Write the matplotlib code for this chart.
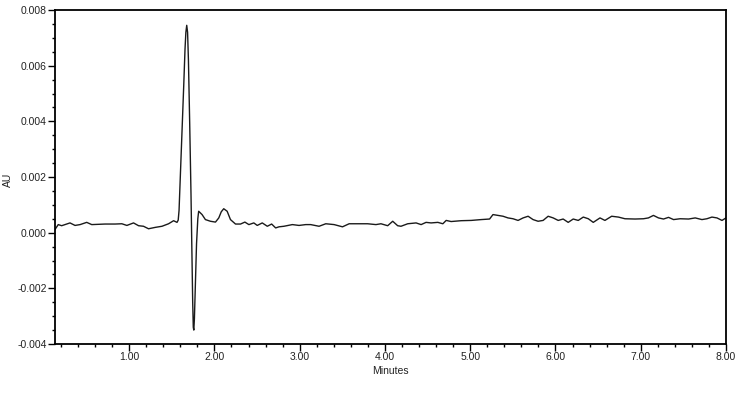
import matplotlib
matplotlib.use("Agg")
import matplotlib.pyplot as plt
from matplotlib.ticker import MultipleLocator, FormatStrFormatter

plt.rcParams['font.family'] = ['Liberation Sans', 'DejaVu Sans']

minutes = [
    0.129, 0.168, 0.208, 0.306, 0.365, 0.424, 0.502, 0.561, 0.640, 0.718,
    0.835, 0.914, 0.973, 1.051, 1.110, 1.168, 1.227, 1.306, 1.385, 1.462,
    1.521, 1.561, 1.575, 1.585, 1.600, 1.620, 1.640, 1.655, 1.665, 1.675,
    1.685, 1.695, 1.710, 1.725, 1.735, 1.745, 1.752, 1.758, 1.765, 1.775,
    1.790, 1.805, 1.815, 1.855, 1.894, 1.953, 2.012, 2.051, 2.080, 2.109,
    2.149, 2.188, 2.247, 2.306, 2.357, 2.404, 2.462, 2.502, 2.561, 2.620,
    2.671, 2.718, 2.757, 2.815, 2.914, 2.992, 3.071, 3.129, 3.227, 3.306,
    3.404, 3.502, 3.580, 3.678, 3.796, 3.894, 3.953, 4.032, 4.091, 4.149,
    4.188, 4.267, 4.365, 4.424, 4.482, 4.541, 4.620, 4.679, 4.718, 4.776,
    4.894, 5.012, 5.129, 5.227, 5.267, 5.326, 5.385, 5.443, 5.502, 5.561,
    5.620, 5.679, 5.737, 5.796, 5.855, 5.914, 5.973, 6.032, 6.090, 6.149,
    6.208, 6.267, 6.326, 6.385, 6.443, 6.522, 6.580, 6.659, 6.738, 6.815,
    6.933, 7.032, 7.090, 7.149, 7.208, 7.267, 7.326, 7.385, 7.462, 7.561,
    7.639, 7.718, 7.776, 7.835, 7.894, 7.953, 8.000,
]

au = [
    0.00011, 0.00029, 0.00025, 0.00035, 0.00026, 0.00029, 0.00037, 0.00029, 0.00030, 0.00031,
    0.00031, 0.00032, 0.00026, 0.00035, 0.00025, 0.00023, 0.00014, 0.00019, 0.00023, 0.00032,
    0.00043, 0.00037, 0.00045, 0.00080, 0.00200, 0.00360, 0.00530, 0.00660, 0.00720, 0.00745,
    0.00720, 0.00620, 0.00390, 0.00140, -0.00050, -0.00250, -0.00340, -0.00350, -0.00310, -0.00200,
    -0.00040, 0.00050, 0.00077, 0.00065, 0.00047, 0.00041, 0.00038, 0.00053, 0.00075, 0.00086,
    0.00077, 0.00047, 0.00031, 0.00031, 0.00038, 0.00029, 0.00035, 0.00026, 0.00035, 0.00023,
    0.00031, 0.00017, 0.00021, 0.00023, 0.00029, 0.00026, 0.00029, 0.00029, 0.00023, 0.00032,
    0.00029, 0.00021, 0.00032, 0.00032, 0.00032, 0.00029, 0.00032, 0.00025, 0.00041, 0.00025,
    0.00023, 0.00032, 0.00035, 0.00029, 0.00037, 0.00035, 0.00037, 0.00032, 0.00044, 0.00040,
    0.00043, 0.00044, 0.00047, 0.00049, 0.00065, 0.00062, 0.00059, 0.00053, 0.00050, 0.00044,
    0.00053, 0.00059, 0.00047, 0.00041, 0.00044, 0.00059, 0.00053, 0.00044, 0.00049, 0.00037,
    0.00049, 0.00044, 0.00056, 0.00050, 0.00037, 0.00053, 0.00044, 0.00059, 0.00056, 0.00050,
    0.00049, 0.00050, 0.00053, 0.00062, 0.00053, 0.00049, 0.00055, 0.00047, 0.00050, 0.00049,
    0.00053, 0.00047, 0.00050, 0.00056, 0.00053, 0.00044, 0.00053,
]

x_ticks = [1, 2, 3, 4, 5, 6, 7, 8]
y_ticks = [-0.004, -0.002, 0.000, 0.002, 0.004, 0.006, 0.008]

fig = plt.figure(figsize=(7.41, 3.99), dpi=100)
ax = fig.add_axes([55/741, 1 - 344/399, (726 - 55)/741, (344 - 10)/399])

ax.plot(minutes, au, color='#1a1a1a', lw=1.0, solid_joinstyle='round')

ax.set_xlim(0.13, 8.0)
ax.set_ylim(-0.004, 0.008)
ax.set_xticks(x_ticks)
ax.set_yticks(y_ticks)
ax.xaxis.set_major_formatter(FormatStrFormatter('%.2f'))
ax.yaxis.set_major_formatter(FormatStrFormatter('%.3f'))
ax.xaxis.set_minor_locator(MultipleLocator(0.2))
ax.yaxis.set_minor_locator(MultipleLocator(0.0005))

ax.tick_params(axis='both', which='major', direction='out', length=5, width=1.0,
               labelsize=7.5, colors='black', labelcolor='#222222', pad=1)
ax.tick_params(axis='both', which='minor', direction='out', length=2.5, width=1.0,
               colors='black')

for s in ax.spines.values():
    s.set_linewidth(1.3)
    s.set_color('black')

ax.set_xlabel('Minutes', fontsize=7.5, color='#222222', labelpad=3)
ax.set_ylabel('AU', fontsize=7.5, color='#222222')
ax.yaxis.set_label_coords(-(55 - 13) / 671, 0.49)

fig.savefig('out.png', dpi=100)
